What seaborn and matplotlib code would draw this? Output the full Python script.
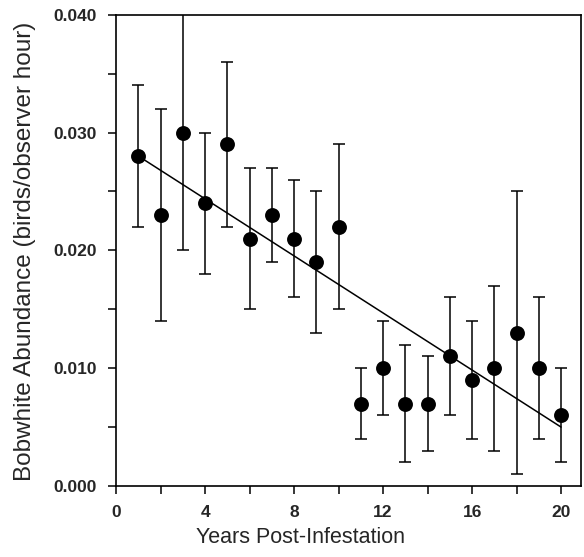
import numpy as np
import pandas as pd
import matplotlib
matplotlib.use("Agg")
import matplotlib.pyplot as plt
import seaborn as sns

# values
years = [1, 2, 3, 4, 5, 6, 7, 8, 9, 10, 11, 12, 13, 14, 15, 16, 17, 18, 19, 20]
abundance = [0.028, 0.023, 0.030, 0.024, 0.029, 0.021, 0.023, 0.021, 0.019, 0.022,
             0.007, 0.010, 0.007, 0.007, 0.011, 0.009, 0.010, 0.013, 0.010, 0.006]
upper = [0.034, 0.032, 0.041, 0.030, 0.036, 0.027, 0.027, 0.026, 0.025, 0.029,
         0.010, 0.014, 0.012, 0.011, 0.016, 0.014, 0.017, 0.025, 0.016, 0.010]
lower = [0.022, 0.014, 0.020, 0.018, 0.022, 0.015, 0.019, 0.016, 0.013, 0.015,
         0.004, 0.006, 0.002, 0.003, 0.006, 0.004, 0.003, 0.001, 0.004, 0.002]

df = pd.DataFrame({"year": years, "abund": abundance, "hi": upper, "lo": lower})

# linear fit of the means
slope, intercept = np.polyfit(df["year"], df["abund"], 1)
fit = pd.DataFrame({"year": [df["year"].min(), df["year"].max()]})
fit["abund"] = intercept + slope * fit["year"]

sns.set_style("ticks")
plt.rcParams["font.family"] = ["Liberation Sans", "DejaVu Sans"]

fig = plt.figure(figsize=(5.84, 5.57), dpi=100)
ax = fig.add_axes([0.199, 0.1275, 0.796, 0.846])

ax.errorbar(df["year"], df["abund"],
            yerr=[df["abund"] - df["lo"], df["hi"] - df["abund"]],
            fmt="none", ecolor="black", elinewidth=1.1, capsize=4, capthick=1.1, zorder=2)
sns.lineplot(data=fit, x="year", y="abund", color="black", linewidth=1.1, ax=ax, zorder=3)
sns.scatterplot(data=df, x="year", y="abund", color="black", s=115, edgecolor="black",
                linewidth=0, ax=ax, zorder=4)

ax.set_xlim(0, 20.9)
ax.set_ylim(0, 0.040)
ax.set_xticks(np.arange(0, 21, 2), minor=True)
ax.set_xticks([0, 4, 8, 12, 16, 20])
ax.set_yticks(np.arange(0, 0.0401, 0.005), minor=True)
ax.set_yticks([0.0, 0.01, 0.02, 0.03, 0.04])
ax.set_yticklabels(["0.000", "0.010", "0.020", "0.030", "0.040"])
ax.tick_params(which="both", direction="out", length=6, width=1.1, color="black")
ax.tick_params(which="major", labelsize=12.5, pad=8)
for lab in ax.get_xticklabels() + ax.get_yticklabels():
    lab.set_fontweight("bold")

for sp in ax.spines.values():
    sp.set_linewidth(1.2)
    sp.set_color("black")

ax.set_xlabel("Years Post-Infestation", fontsize=15.5)
ax.set_ylabel("Bobwhite Abundance (birds/observer hour)", fontsize=17.5)
ax.xaxis.set_label_coords(0.396, -0.088)
ax.yaxis.set_label_coords(-0.172, 0.497)

fig.savefig("out.png", dpi=100)
